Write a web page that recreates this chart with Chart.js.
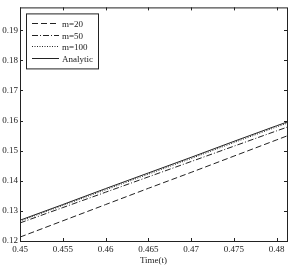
<!DOCTYPE html>
<html>
<head>
<meta charset="utf-8">
<script src="https://cdn.jsdelivr.net/npm/chart.js@4/dist/chart.umd.min.js"></script>
<style>
    html, body { margin: 0; padding: 0; background: #fff; }
    #wrap { width: 293px; height: 266px; }
</style>
</head>
<body>
<div id="wrap"><canvas id="chart"></canvas></div>
<script>
// time samples
const times    = [0.45, 0.455, 0.46, 0.465, 0.47, 0.475, 0.48, 0.4812];
// series values
const m20      = [0.1213, 0.1267, 0.1321, 0.1375, 0.1428, 0.1482, 0.1536, 0.1549];
const m50      = [0.1260, 0.1311, 0.1362, 0.1413, 0.1464, 0.1515, 0.1566, 0.1578];
const m100     = [0.1266, 0.1318, 0.1370, 0.1422, 0.1474, 0.1527, 0.1579, 0.1591];
const analytic = [0.1269, 0.1321, 0.1374, 0.1426, 0.1478, 0.1531, 0.1583, 0.1595];
// tick labels
const xTicks = [0.45, 0.455, 0.46, 0.465, 0.47, 0.475, 0.48];
const yTicks = [0.12, 0.13, 0.14, 0.15, 0.16, 0.17, 0.18, 0.19];

const FONT = "Liberation Serif";
const INK  = "#222";

const toPoints = (ys) => times.map((t, i) => ({ x: t, y: ys[i] }));

const series = [
    { label: "m=20",     data: m20,      dash: [6, 3] },
    { label: "m=50",     data: m50,      dash: [6, 2, 1, 2] },
    { label: "m=100",    data: m100,     dash: [1, 1.5] },
    { label: "Analytic", data: analytic, dash: [] },
];

/**
 * Frame with inward ticks on all four sides, MATLAB style.
 */
const framePlugin = {
    id: "frame",
    afterDraw(chart)
    {
        const { ctx, chartArea: a, scales } = chart;
        const len = 3;

        ctx.save();
        ctx.strokeStyle = INK;
        ctx.lineWidth = 1;
        ctx.strokeRect(a.left + 0.5, a.top + 0.5, a.right - a.left, a.bottom - a.top);

        ctx.beginPath();
        xTicks.forEach((v) => {
            const px = Math.round(scales.x.getPixelForValue(v)) + 0.5;
            ctx.moveTo(px, a.bottom);
            ctx.lineTo(px, a.bottom - len);
            ctx.moveTo(px, a.top);
            ctx.lineTo(px, a.top + len);
        });
        yTicks.forEach((v) => {
            const py = Math.round(scales.y.getPixelForValue(v)) + 0.5;
            ctx.moveTo(a.left, py);
            ctx.lineTo(a.left + len, py);
            ctx.moveTo(a.right, py);
            ctx.lineTo(a.right - len, py);
        });
        ctx.stroke();
        ctx.restore();
    },
};

/**
 * Boxed legend in the upper left corner.
 */
const legendPlugin = {
    id: "boxLegend",
    afterDraw(chart)
    {
        const { ctx, chartArea: a } = chart;
        const x0 = a.left + 6;
        const y0 = a.top + 6;
        const w  = 72;
        const rowH = 11.5;

        ctx.save();
        ctx.fillStyle = "#fff";
        ctx.fillRect(x0, y0, w, rowH * series.length + 9);
        ctx.strokeStyle = INK;
        ctx.lineWidth = 1;
        ctx.strokeRect(x0 + 0.5, y0 + 0.5, w, rowH * series.length + 9);

        ctx.font = "9px '" + FONT + "'";
        ctx.textBaseline = "middle";
        ctx.fillStyle = INK;

        series.forEach((s, i) => {
            const y = Math.round(y0 + 10 + i * rowH) + 0.5;
            ctx.beginPath();
            ctx.setLineDash(s.dash);
            ctx.moveTo(x0 + 6, y);
            ctx.lineTo(x0 + 33, y);
            ctx.stroke();
            ctx.setLineDash([]);
            ctx.fillText(s.label, x0 + 36, y + 1);
        });
        ctx.restore();
    },
};

new Chart(document.getElementById("chart"), {
    type: "line",
    data: {
        datasets: series.map((s) => ({
            label: s.label,
            data: toPoints(s.data),
            borderColor: INK,
            borderWidth: 1,
            borderDash: s.dash,
            pointRadius: 0,
            tension: 0,
            fill: false,
        })),
    },
    options: {
        responsive: true,
        maintainAspectRatio: false,
        animation: false,
        layout: { padding: { left: 0, top: 5, right: 6, bottom: 0 } },
        plugins: {
            legend: { display: false },
            tooltip: { enabled: false },
        },
        scales: {
            x: {
                type: "linear",
                min: 0.45,
                max: 0.4812,
                afterBuildTicks: (scale) => {
                    scale.ticks = xTicks.map((v) => ({ value: v }));
                },
                afterFit: (scale) => { scale.height = 25; },
                grid: { display: false, drawTicks: false },
                border: { display: false },
                ticks: {
                    color: INK,
                    padding: 3,
                    maxRotation: 0,
                    autoSkip: false,
                    font: { family: FONT, size: 9 },
                    callback: (v) => String(Number(v.toFixed(3))),
                },
                title: {
                    display: true,
                    text: "Time(t)",
                    color: INK,
                    padding: { top: 0, bottom: 0 },
                    font: { family: FONT, size: 9 },
                },
            },
            y: {
                min: 0.12,
                max: 0.1976,
                afterBuildTicks: (scale) => {
                    scale.ticks = yTicks.map((v) => ({ value: v }));
                },
                afterFit: (scale) => { scale.width = 20; },
                grid: { display: false, drawTicks: false },
                border: { display: false },
                ticks: {
                    color: INK,
                    padding: 2,
                    autoSkip: false,
                    font: { family: FONT, size: 9 },
                    callback: (v) => String(Number(v.toFixed(2))),
                },
            },
        },
    },
    plugins: [framePlugin, legendPlugin],
});
</script>
</body>
</html>
